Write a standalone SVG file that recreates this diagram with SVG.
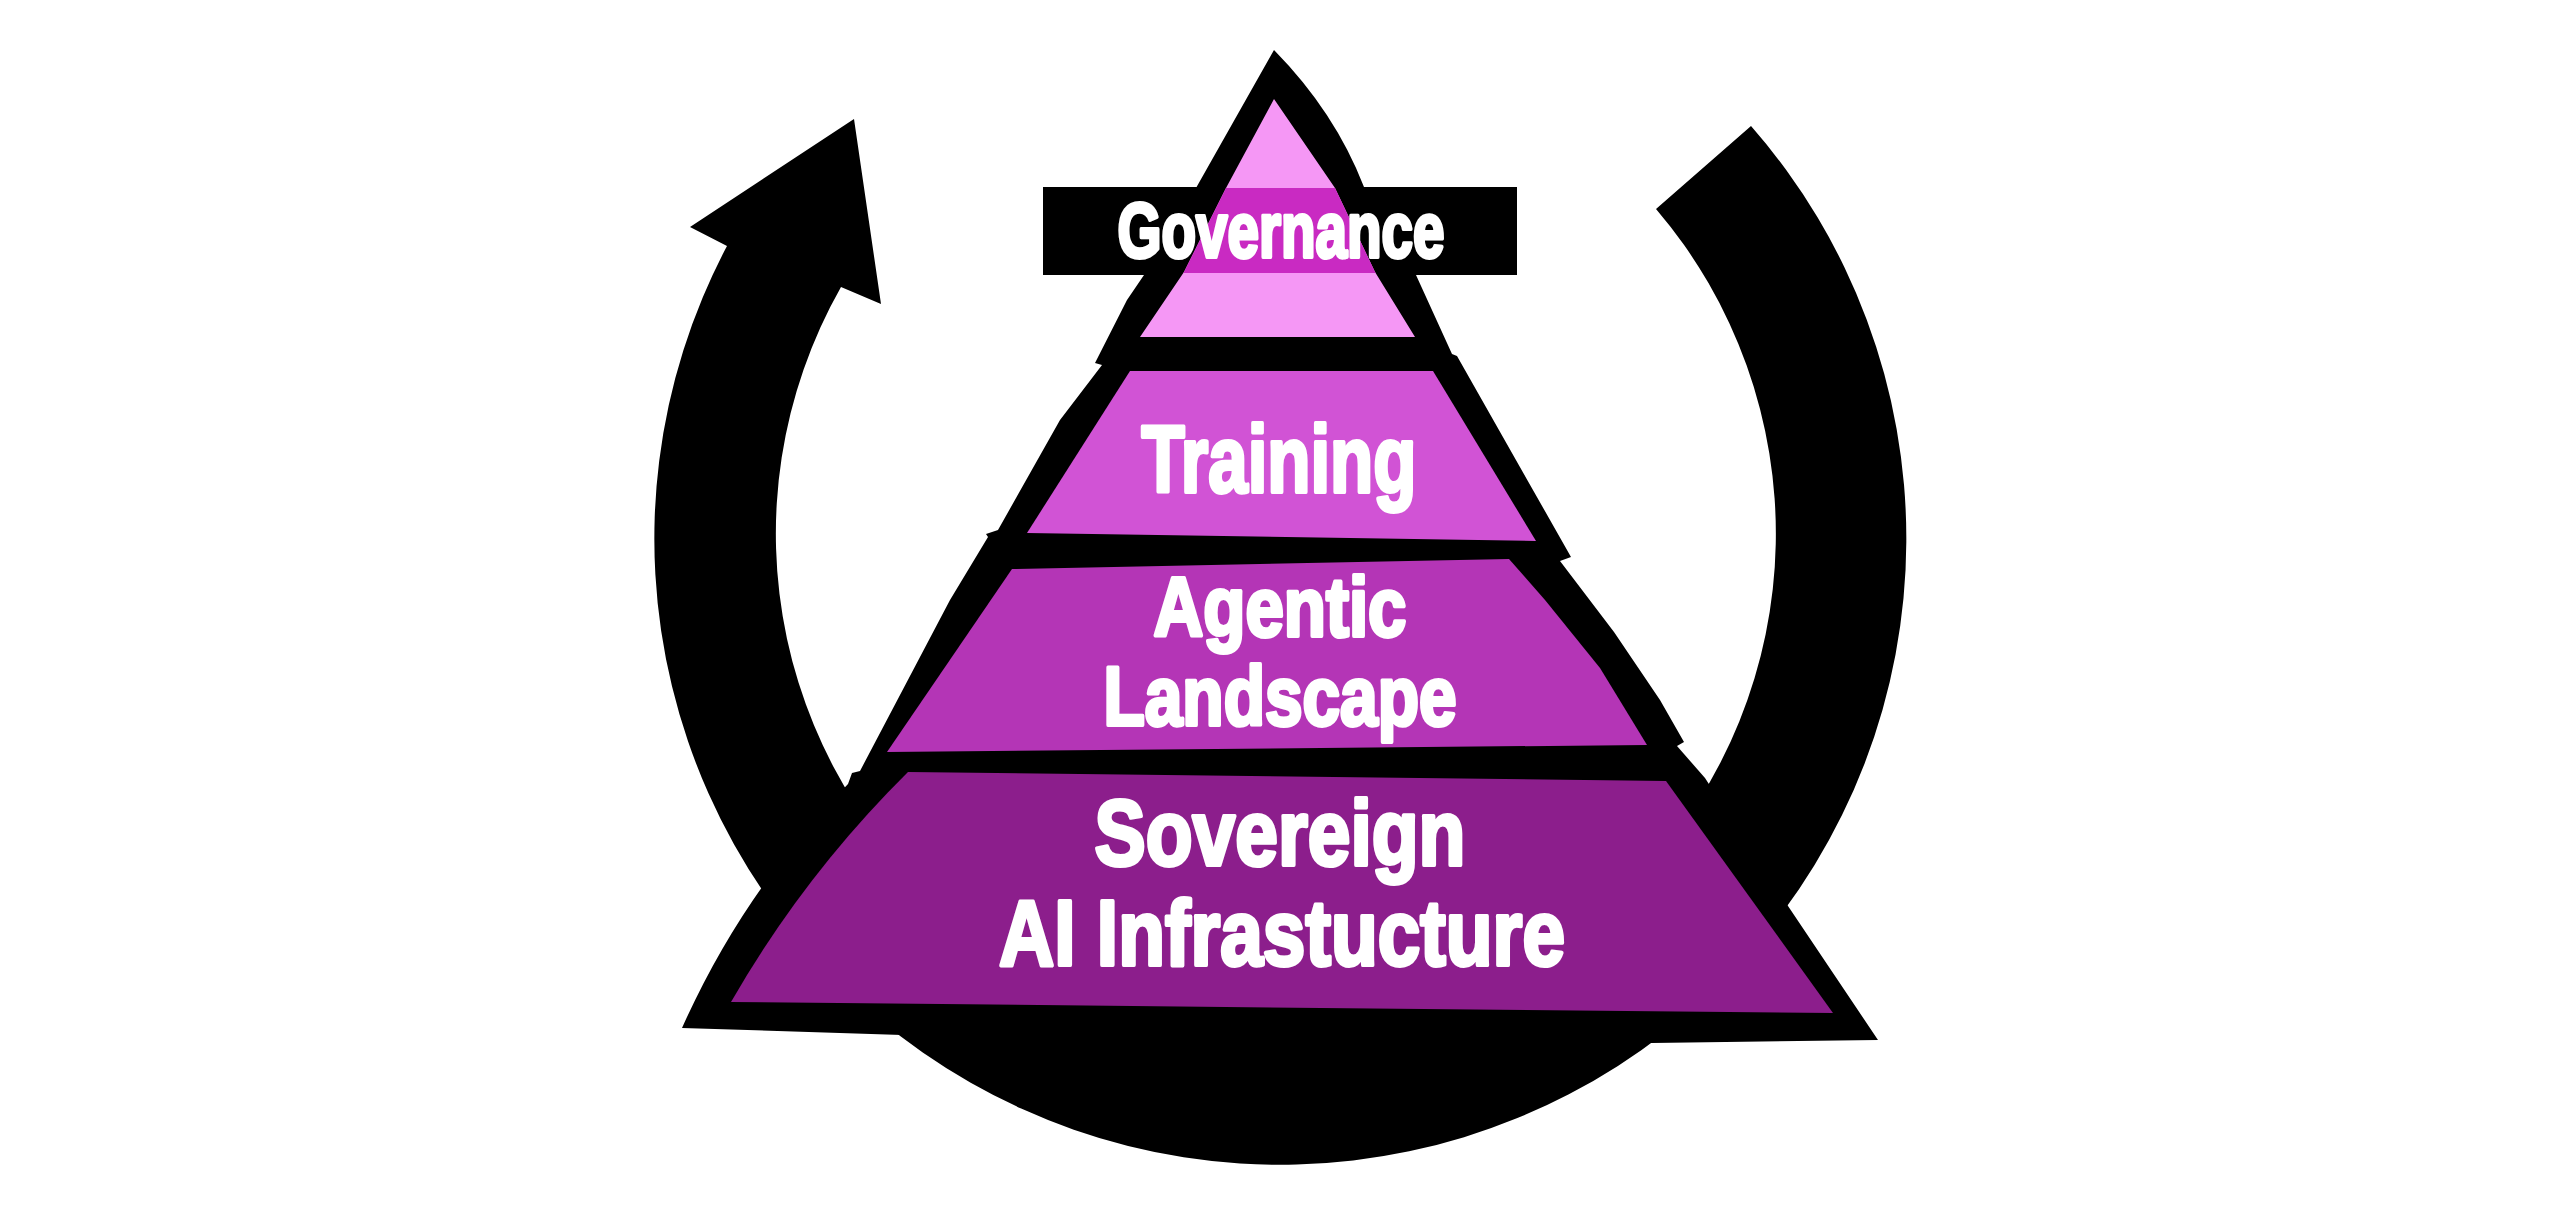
<svg xmlns="http://www.w3.org/2000/svg" width="2560" height="1212" viewBox="0 0 2560 1212">
<style>
.blk{fill:#000}
.t{fill:#fff;stroke:#fff;stroke-width:4;stroke-linejoin:round;font-family:"Liberation Sans",Arial,"DejaVu Sans",sans-serif;font-weight:700;text-anchor:middle}
</style>
<defs>
<clipPath id="govClip"><path d="M1274,99 L1335,188 L1375,272 L1415,337 L1140,337 L1184,272 L1226,188 Z"/></clipPath>
</defs>
<rect x="0" y="0" width="2560" height="1212" fill="#fff"/>
<g id="connectors">
<path class="blk" d="M1751,126 A626,626 0 1 1 727,246 L690,227 L854,119 L881,304 L841,287 A500,500 0 1 0 1656,209 Z"/>
</g>
<g id="pyramid-outline">
<path class="blk" d="M1274,50 Q1335,112 1364,187 L1416,275 L1452,354 L1457,356 L1571,557 L1560,561 L1614,632 L1660,700 L1684,742 L1677,746 L1705,778 L1788,906 L1878,1040 L1652,1043 L1280,1040 L902,1035 L682,1028 Q743,891 848,784 L852,773 L860,771 L950,600 L988,537 L986,534 L998,530 L1060,420 L1102,365 L1095,363 L1127,300 L1144,275 L1196,188 Z"/>
</g>
<g id="governance">
<rect class="blk" x="1043" y="187" width="474" height="88"/>
<path fill="#F597F5" d="M1274,99 L1335,188 L1375,272 L1415,337 L1140,337 L1184,272 L1226,188 Z"/>
<rect fill="#C92AC2" x="1100" y="188" width="360" height="85" clip-path="url(#govClip)"/>
<text class="t" x="1281" y="257" font-size="78" textLength="327" lengthAdjust="spacingAndGlyphs">Governance</text>
</g>
<g id="training">
<path fill="#D153D5" d="M1130,371 L1433,371 L1536,541 L1027,533 Z"/>
<text class="t" x="1279" y="492" font-size="95" textLength="275" lengthAdjust="spacingAndGlyphs">Training</text>
</g>
<g id="agentic">
<path fill="#B435B6" d="M1012,569 L1509,559 L1545,600 L1600,668 L1647,745 L887,752 Z"/>
<text class="t" font-size="83"><tspan x="1280" y="636" textLength="253" lengthAdjust="spacingAndGlyphs">Agentic</tspan><tspan x="1280" y="725" textLength="353" lengthAdjust="spacingAndGlyphs">Landscape</tspan></text>
</g>
<g id="sovereign">
<path fill="#8C1E8C" d="M908,772 L1666,781 L1833,1013 L731,1002 Q804,875 908,772 Z"/>
<text class="t" font-size="92"><tspan x="1280" y="865" textLength="371" lengthAdjust="spacingAndGlyphs">Sovereign</tspan><tspan x="1282" y="965" textLength="566" lengthAdjust="spacingAndGlyphs">AI Infrastucture</tspan></text>
</g>
</svg>
